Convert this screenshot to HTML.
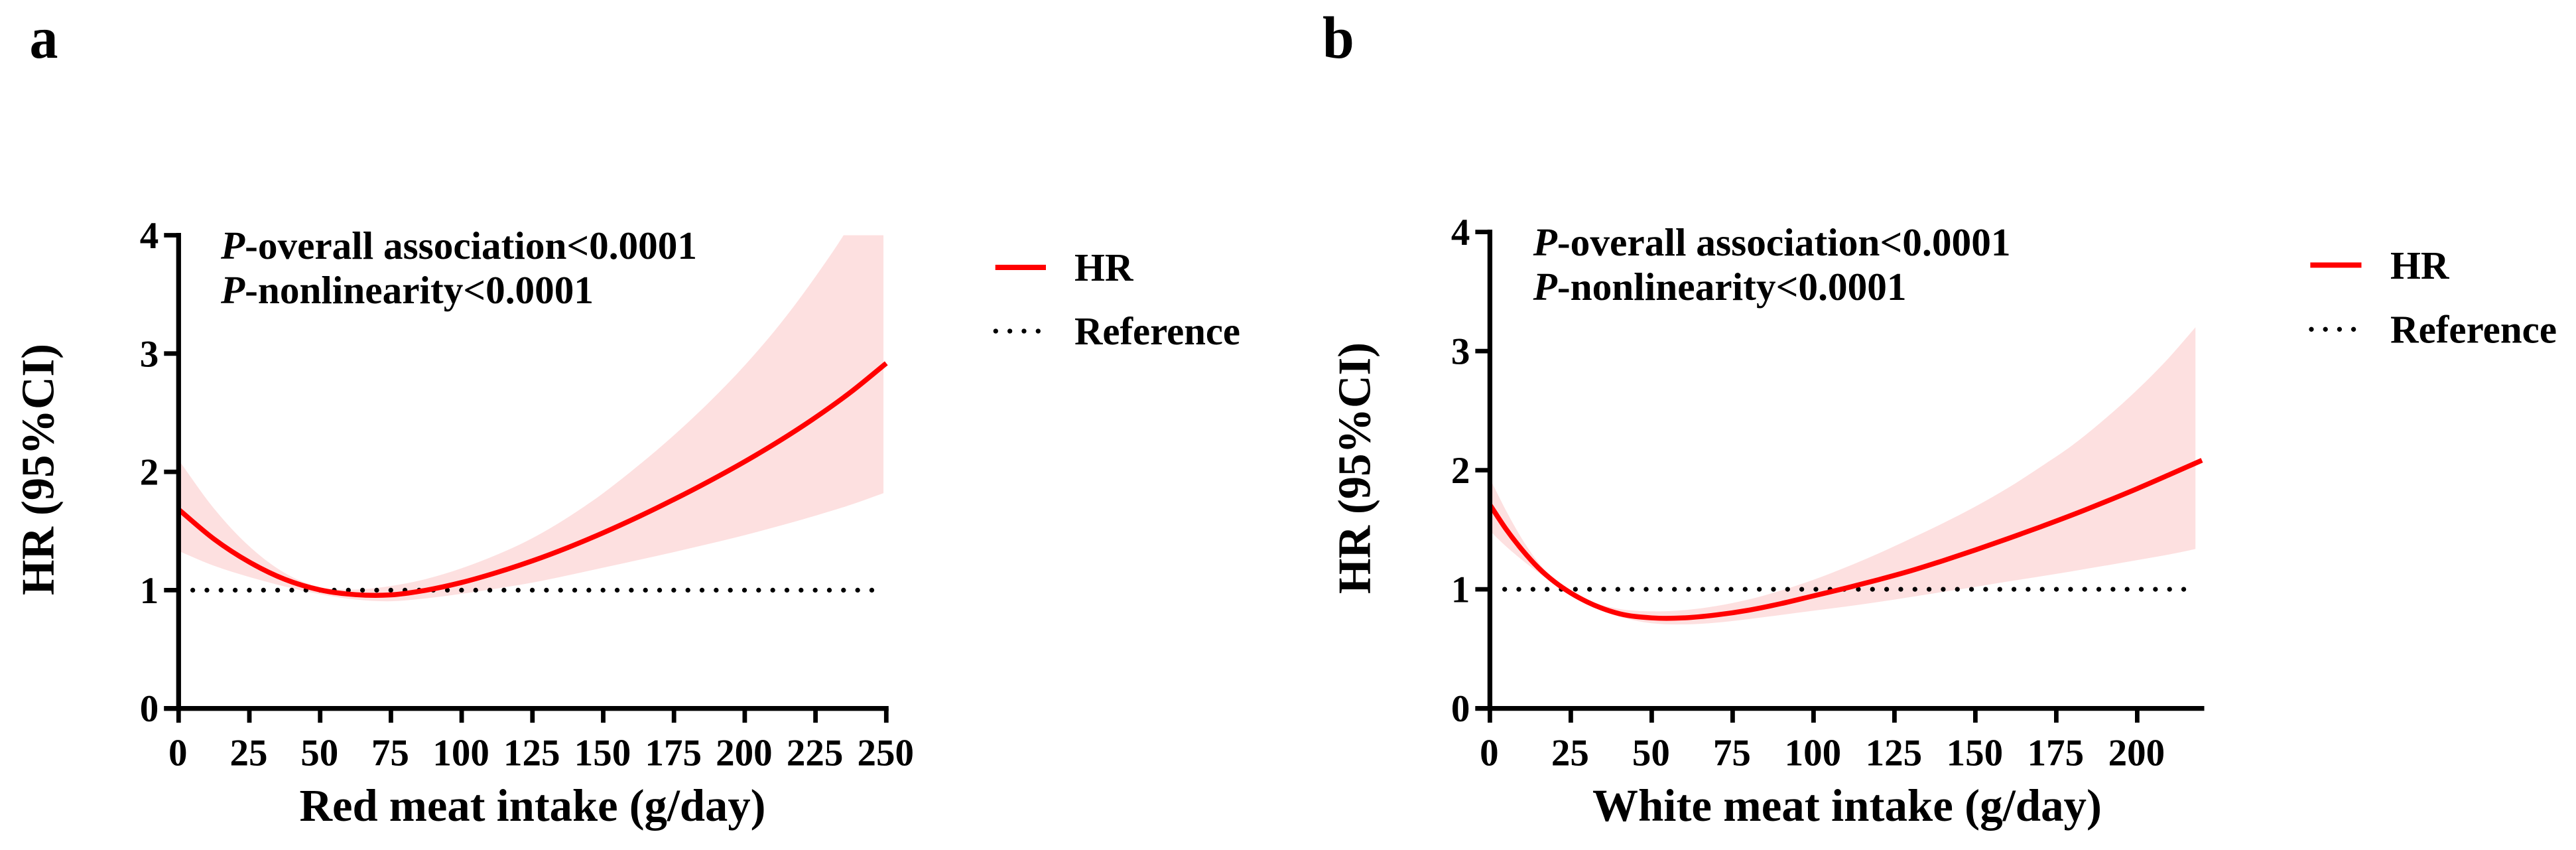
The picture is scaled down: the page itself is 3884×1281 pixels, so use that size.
<!DOCTYPE html>
<html lang="en">
<head>
<meta charset="utf-8">
<title>HR versus red and white meat intake</title>
<style>
html,body{margin:0;padding:0;background:#fff;}
svg{display:block;}
text{font-family:"Liberation Serif",serif;font-weight:bold;fill:#000;}
</style>
</head>
<body>
<svg id="figure" xmlns="http://www.w3.org/2000/svg" width="3884" height="1281" viewBox="0 0 3884 1281">
  <rect width="3884" height="1281" fill="#fff"/>

  <text font-size="86" transform="translate(44.5,87) scale(1,1.05)">a</text>
  <text font-size="86" transform="translate(1994,87) scale(1,1.05)">b</text>

  <g id="panel-a"></g>
  <g id="panel-b"></g>

  <text font-size="70" transform="translate(80.7,897) rotate(-90)" textLength="379" lengthAdjust="spacingAndGlyphs">HR (95%CI)</text>
  <text font-size="69" x="451.5" y="1237" textLength="703" lengthAdjust="spacingAndGlyphs">Red meat intake (g/day)</text>
  <text font-size="59" x="333" y="390" textLength="718" lengthAdjust="spacingAndGlyphs"><tspan font-style="italic">P</tspan>-overall association&lt;0.0001</text>
  <text font-size="59" x="333" y="457" textLength="562" lengthAdjust="spacingAndGlyphs"><tspan font-style="italic">P</tspan>-nonlinearity&lt;0.0001</text>

  <g>
    <line x1="1500.7" y1="403" x2="1577" y2="403" stroke="#ff0000" stroke-width="8"/>
    <text font-size="59" x="1620" y="423">HR</text>
    <line x1="1501.3" y1="499" x2="1570" y2="499" stroke="#000" stroke-width="7.3" stroke-linecap="round" stroke-dasharray="0 21.33"/>
    <text font-size="59" x="1620" y="519" textLength="250" lengthAdjust="spacingAndGlyphs">Reference</text>
  </g>

  <text font-size="70" transform="translate(2065.5,895) rotate(-90)" textLength="379" lengthAdjust="spacingAndGlyphs">HR (95%CI)</text>
  <text font-size="69" x="2401" y="1237" textLength="768" lengthAdjust="spacingAndGlyphs">White meat intake (g/day)</text>
  <text font-size="59" x="2311.6" y="385" textLength="720" lengthAdjust="spacingAndGlyphs"><tspan font-style="italic">P</tspan>-overall association&lt;0.0001</text>
  <text font-size="59" x="2311.6" y="452" textLength="563" lengthAdjust="spacingAndGlyphs"><tspan font-style="italic">P</tspan>-nonlinearity&lt;0.0001</text>

  <g>
    <line x1="3483.4" y1="399.5" x2="3560.5" y2="399.5" stroke="#ff0000" stroke-width="8"/>
    <text font-size="59" x="3604" y="420">HR</text>
    <line x1="3485" y1="496.3" x2="3553" y2="496.3" stroke="#000" stroke-width="7.3" stroke-linecap="round" stroke-dasharray="0 21.2"/>
    <text font-size="59" x="3604" y="516.7" textLength="251" lengthAdjust="spacingAndGlyphs">Reference</text>
  </g>
</svg>

<script>
// Shared y axis
var yTicks = [0, 1, 2, 3, 4];
var referenceValue = 1;

// Panel a: red meat intake
var aXTicks = [0, 25, 50, 75, 100, 125, 150, 175, 200, 225, 250];
var aIntake = [0, 12.5, 25, 37.5, 50, 62.5, 75, 87.5, 100, 112.5, 125, 137.5, 150, 162.5, 175, 187.5, 200, 212.5, 225, 237.5, 250];
var aHr = [1.682, 1.432, 1.237, 1.092, 1.002, 0.962, 0.96, 1.0, 1.065, 1.15, 1.248, 1.36, 1.485, 1.621, 1.767, 1.922, 2.087, 2.265, 2.46, 2.675, 2.918];
var aBandIntake = [0, 12.5, 25, 37.5, 50, 62.5, 75, 87.5, 100, 112.5, 125, 137.5, 150, 162.5, 175, 187.5, 200, 212.5, 225, 237.5, 249];
var aUpper = [2.10, 1.69, 1.37, 1.145, 1.025, 1.005, 1.035, 1.095, 1.185, 1.30, 1.44, 1.615, 1.82, 2.055, 2.31, 2.59, 2.90, 3.25, 3.65, 4.10, 4.6];
var aLower = [1.331, 1.206, 1.111, 1.031, 0.966, 0.921, 0.906, 0.931, 0.969, 1.014, 1.064, 1.125, 1.19, 1.255, 1.322, 1.392, 1.465, 1.545, 1.63, 1.722, 1.82];
var aReferenceRange = [5, 245.5];

// Panel b: white meat intake
var bXTicks = [0, 25, 50, 75, 100, 125, 150, 175, 200];
var bIntake = [0, 5, 10, 15, 20, 25, 30, 40, 50, 60, 70, 80, 90, 100, 110, 120, 130, 140, 150, 160, 170, 180, 190, 200, 210, 220];
var bHr = [1.71, 1.505, 1.33, 1.18, 1.062, 0.969, 0.895, 0.795, 0.76, 0.76, 0.785, 0.825, 0.88, 0.945, 1.01, 1.08, 1.155, 1.24, 1.33, 1.425, 1.523, 1.625, 1.733, 1.845, 1.963, 2.083];
var bBandIntake = [0, 5, 10, 15, 20, 25, 30, 40, 50, 60, 70, 80, 90, 100, 110, 120, 130, 140, 150, 160, 170, 180, 190, 200, 210, 218];
var bUpper = [1.93, 1.66, 1.42, 1.225, 1.08, 0.98, 0.91, 0.835, 0.815, 0.825, 0.86, 0.915, 0.99, 1.08, 1.185, 1.30, 1.425, 1.555, 1.695, 1.85, 2.025, 2.21, 2.43, 2.675, 2.95, 3.2];
var bLower = [1.49, 1.36, 1.245, 1.14, 1.045, 0.955, 0.875, 0.77, 0.715, 0.705, 0.72, 0.75, 0.785, 0.82, 0.855, 0.893, 0.935, 0.978, 1.02, 1.065, 1.108, 1.152, 1.198, 1.245, 1.293, 1.338];
var bReferenceRange = [4.57, 215.8];

var SVGNS = 'http://www.w3.org/2000/svg';

function make(tag, attrs, parent) {
  var node = document.createElementNS(SVGNS, tag);
  Object.keys(attrs).forEach(function (k) { node.setAttribute(k, attrs[k]); });
  parent.appendChild(node);
  return node;
}

// Cubic Hermite path with tangents from non-uniform finite differences.
function smooth(points) {
  var n = points.length;
  var slopes = points.map(function (p, i) {
    if (i === 0) return (points[1][1] - p[1]) / (points[1][0] - p[0]);
    if (i === n - 1) return (p[1] - points[i - 1][1]) / (p[0] - points[i - 1][0]);
    var h0 = p[0] - points[i - 1][0];
    var h1 = points[i + 1][0] - p[0];
    var s0 = (p[1] - points[i - 1][1]) / h0;
    var s1 = (points[i + 1][1] - p[1]) / h1;
    return (s0 * h1 + s1 * h0) / (h0 + h1);
  });
  var d = '';
  for (var i = 0; i < n - 1; i++) {
    var a = points[i];
    var b = points[i + 1];
    var dx = (b[0] - a[0]) / 3;
    d += 'C' + (a[0] + dx).toFixed(2) + ' ' + (a[1] + slopes[i] * dx).toFixed(2) + ' ' +
      (b[0] - dx).toFixed(2) + ' ' + (b[1] - slopes[i + 1] * dx).toFixed(2) + ' ' +
      b[0].toFixed(2) + ' ' + b[1].toFixed(2);
  }
  return d;
}

function pairs(xs, ys, xScale, yScale) {
  return xs.map(function (x, i) { return [xScale(x), yScale(ys[i])]; });
}

function drawPanel(cfg) {
  var root = document.getElementById(cfg.id);
  var prefix = cfg.id;
  var xScale = function (v) { return cfg.x0 + v * cfg.xUnit; };
  var yScale = function (v) { return cfg.y0 - v * cfg.yUnit; };

  var defs = make('defs', {}, root);
  var clip = make('clipPath', { id: prefix + '-clip' }, defs);
  make('rect', { x: xScale(0), y: yScale(4), width: xScale(cfg.xMax) - xScale(0) + 20, height: yScale(0) - yScale(4) }, clip);

  var upperPts = pairs(cfg.bandX, cfg.upper, xScale, yScale);
  var lowerPts = pairs(cfg.bandX, cfg.lower, xScale, yScale).reverse();
  var bandPath = 'M' + upperPts[0][0] + ' ' + upperPts[0][1] + smooth(upperPts) +
    'L' + lowerPts[0][0] + ' ' + lowerPts[0][1] + smooth(lowerPts) + 'Z';
  var band = make('path', { d: bandPath, fill: '#fde0e0', 'clip-path': 'url(#' + prefix + '-clip)' }, root);
  
  

  var ref = make('line', {
    x1: xScale(cfg.refRange[0]), x2: xScale(cfg.refRange[1]) + 1,
    y1: yScale(referenceValue), y2: yScale(referenceValue),
    stroke: '#000', 'stroke-width': 7.3, 'stroke-linecap': 'round', 'stroke-dasharray': '0 21.33'
  }, root);
  
  

  var linePts = pairs(cfg.lineX, cfg.line, xScale, yScale);
  var hr = make('path', {
    d: 'M' + linePts[0][0] + ' ' + linePts[0][1] + smooth(linePts),
    fill: 'none', stroke: '#ff0000', 'stroke-width': 7.5
  }, root);
  
  

  var yAxis = make('line', { x1: xScale(0), x2: xScale(0), y1: yScale(4) - 3.5, y2: cfg.y0 + 3.5, stroke: '#000', 'stroke-width': 7.3 }, root);
  
  

  var xAxis = make('line', { x1: xScale(0) - 22, x2: xScale(cfg.xMax) + 3.5, y1: cfg.y0, y2: cfg.y0, stroke: '#000', 'stroke-width': 7.3 }, root);
  
  

  yTicks.forEach(function (t) {
    var tick = make('line', { x1: xScale(0) - 22, x2: xScale(0), y1: yScale(t), y2: yScale(t), stroke: '#000', 'stroke-width': 6.8 }, root);
    
    
    var label = make('text', { x: xScale(0) - 30, y: yScale(t) + 19.5, 'font-size': 57, 'text-anchor': 'end' }, root);
    label.textContent = String(t);
    
    
  });

  cfg.xTicks.forEach(function (t) {
    var tick = make('line', { x1: xScale(t), x2: xScale(t), y1: cfg.y0, y2: cfg.y0 + 21.5, stroke: '#000', 'stroke-width': 6.8 }, root);
    
    
    var label = make('text', { x: xScale(t) - 1, y: 1153.3, 'font-size': 57, 'text-anchor': 'middle' }, root);
    label.textContent = String(t);
    
    
  });
}

drawPanel({
  id: 'panel-a', x0: 269.3, xUnit: 4.268, y0: 1067.7, yUnit: 178.3, xMax: 250,
  xTicks: aXTicks, lineX: aIntake, line: aHr, bandX: aBandIntake, upper: aUpper, lower: aLower, refRange: aReferenceRange
});
drawPanel({
  id: 'panel-b', x0: 2246.4, xUnit: 4.88, y0: 1067.6, yUnit: 179.5, xMax: 220,
  xTicks: bXTicks, lineX: bIntake, line: bHr, bandX: bBandIntake, upper: bUpper, lower: bLower, refRange: bReferenceRange
});
</script>
</body>
</html>
